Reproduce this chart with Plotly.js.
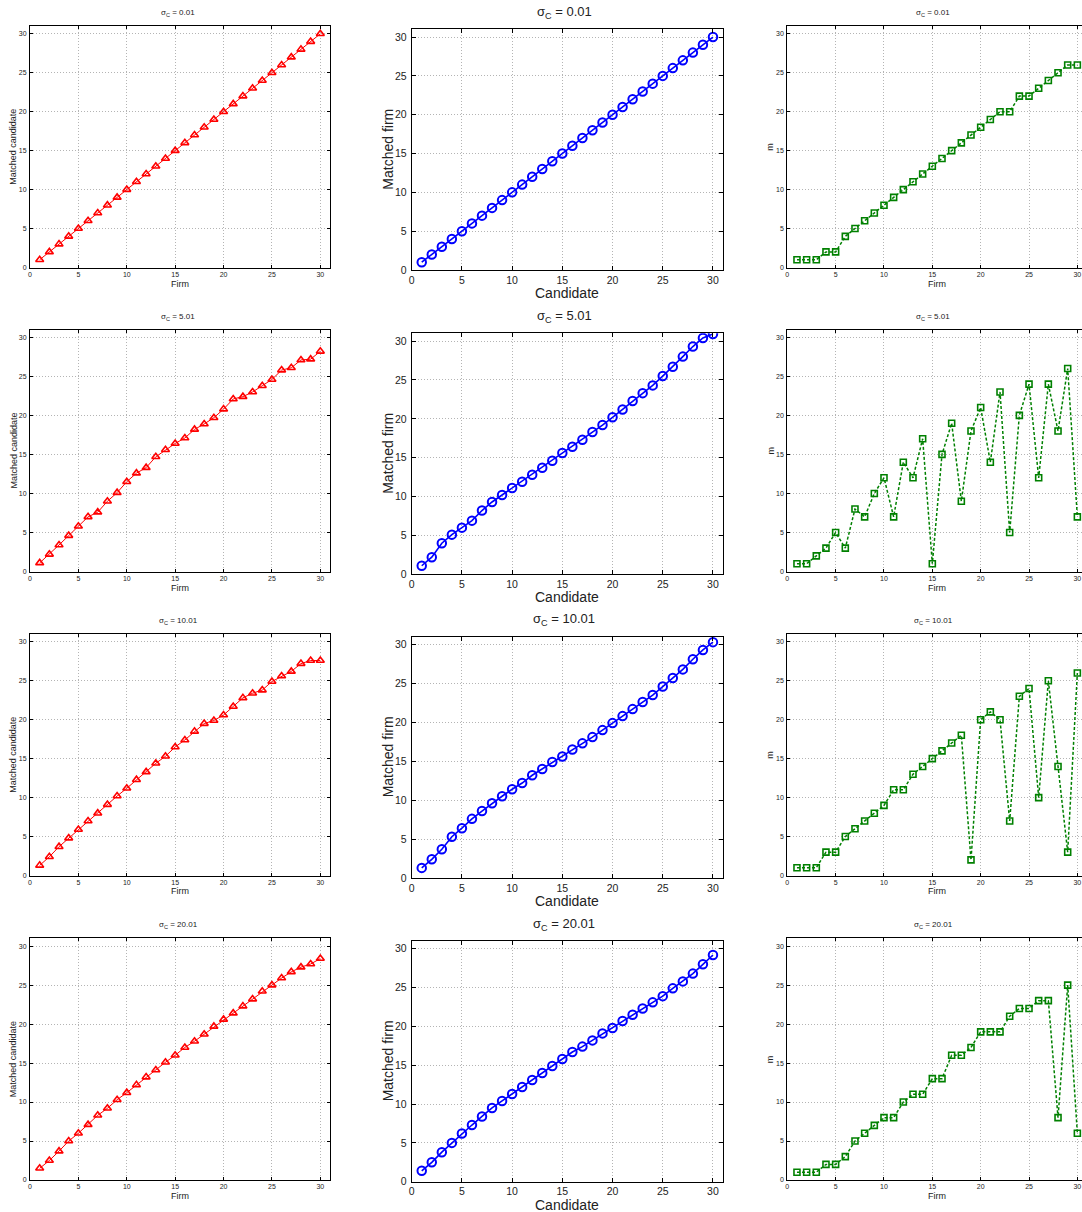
<!DOCTYPE html>
<html>
<head>
<meta charset="utf-8">
<script src="https://cdn.plot.ly/plotly-3.0.1.min.js"></script>
<style>html,body{margin:0;padding:0;background:#fff;}#chart{width:1082px;height:1212px;}</style>
</head>
<body>
<div id="chart"></div>
<script>
// ---- data ----
const index30 = [1,2,3,4,5,6,7,8,9,10,11,12,13,14,15,16,17,18,19,20,21,22,23,24,25,26,27,28,29,30];
const sigmaLabels = ["0.01", "5.01", "10.01", "20.01"];
const tickValues = [0,5,10,15,20,25,30];

// left column: matched candidate vs firm
const candS001 = [1,2,3,4,5,6,7,8,9,10,11,12,13,14,15,16,17,18,19,20,21,22,23,24,25,26,27,28,29,30];
const candS501 = [1.1,2.2,3.4,4.6,5.8,7.0,7.6,9.0,10.1,11.5,12.6,13.3,14.7,15.6,16.4,17.1,18.2,18.9,19.7,20.8,22.1,22.4,23.0,23.8,24.6,25.8,26.1,27.1,27.2,28.2];
const candS1001 = [1.3,2.4,3.7,4.8,5.9,7.0,8.0,9.1,10.2,11.2,12.3,13.3,14.4,15.3,16.5,17.4,18.5,19.5,19.9,20.6,21.7,22.8,23.4,23.8,24.9,25.6,26.2,27.2,27.6,27.6];
const candS2001 = [1.5,2.5,3.7,5.0,6.0,7.1,8.3,9.2,10.3,11.2,12.2,13.2,14.1,15.1,16.0,17.0,17.8,18.7,19.7,20.6,21.4,22.3,23.2,24.2,25.0,25.9,26.7,27.3,27.7,28.4];

// middle column: matched firm vs candidate
const firmS001 = [1,2,3,4,5,6,7,8,9,10,11,12,13,14,15,16,17,18,19,20,21,22,23,24,25,26,27,28,29,30];
const firmS501 = [1.1,2.2,4.0,5.1,6.0,6.9,8.2,9.3,10.2,11.1,11.9,12.8,13.7,14.6,15.6,16.4,17.3,18.3,19.2,20.2,21.2,22.3,23.3,24.3,25.5,26.7,28.0,29.3,30.4,30.9];
const firmS1001 = [1.3,2.4,3.7,5.3,6.4,7.6,8.6,9.6,10.5,11.4,12.2,13.2,14.0,14.9,15.6,16.5,17.3,18.1,19.0,19.9,20.8,21.7,22.6,23.5,24.6,25.7,26.8,28.1,29.3,30.3];
const firmS2001 = [1.4,2.5,3.8,5.0,6.2,7.3,8.4,9.5,10.4,11.3,12.2,13.1,14.0,14.9,15.8,16.7,17.4,18.2,19.1,19.8,20.7,21.5,22.3,23.1,23.9,24.9,25.8,26.8,28.0,29.2];

// right column: m vs firm
const mS001 = [1,1,1,2,2,4,5,6,7,8,9,10,11,12,13,14,15,16,17,18,19,20,20,22,22,23,24,25,26,26];
const mS501 = [1,1,2,3,5,3,8,7,10,12,7,14,12,17,1,15,19,9,18,21,14,23,5,20,24,12,24,18,26,7];
const mS1001 = [1,1,1,3,3,5,6,7,8,9,11,11,13,14,15,16,17,18,2,20,21,20,7,23,24,10,25,14,3,26];
const mS2001 = [1,1,1,2,2,3,5,6,7,8,8,10,11,11,13,13,16,16,17,19,19,19,21,22,22,23,23,8,25,6];

const leftSeries = [candS001, candS501, candS1001, candS2001];
const midSeries = [firmS001, firmS501, firmS1001, firmS2001];
const rightSeries = [mS001, mS501, mS1001, mS2001];

// ---- layout geometry (pixels) ----
const W = 1082, H = 1212;
const colX = [[30, 330], [411.7, 723], [787.3, 1082]];
const rowYSide = [[26, 267.5], [329.5, 571.5], [634, 875.5], [938.3, 1180]];
const rowYMid = [[29.3, 270], [333.3, 574.3], [636.7, 878], [941, 1181.7]];
const xRanges = [[0, 31], [0, 31], [0, 30.48]];

const FONT = "Liberation Sans, Arial, Helvetica, sans-serif";
const traces = [];
const layout = {
  width: W, height: H,
  margin: {l: 0, r: 0, t: 0, b: 0},
  paper_bgcolor: "#fff", plot_bgcolor: "#fff",
  showlegend: false,
  font: {family: FONT, color: "#222"},
  annotations: []
};

function px2x(p) { return p / W; }
function px2y(p) { return 1 - p / H; }

for (let r = 0; r < 4; r++) {
  for (let c = 0; c < 3; c++) {
    const n = r * 3 + c + 1;
    const xa = n === 1 ? "xaxis" : "xaxis" + n;
    const ya = n === 1 ? "yaxis" : "yaxis" + n;
    const xr = n === 1 ? "x" : "x" + n;
    const yr = n === 1 ? "y" : "y" + n;
    const ry = c === 1 ? rowYMid[r] : rowYSide[r];
    const big = c === 1;
    const tickSize = big ? 10.5 : 7;
    layout[xa] = {
      domain: [px2x(colX[c][0]), px2x(colX[c][1])],
      range: xRanges[c],
      anchor: yr,
      tickmode: "array", tickvals: tickValues, ticktext: tickValues.map(String),
      ticks: "inside", ticklen: big ? 4 : 3, tickcolor: "#000", tickwidth: 1,
      showline: true, linecolor: "#000", linewidth: 1, mirror: "ticks",
      showgrid: true, gridcolor: "#b4b4b4", griddash: "1px,2px", gridwidth: 1,
      zeroline: false,
      tickfont: {size: tickSize, family: FONT, color: "#222"},
      ticklabelstandoff: 0
    };
    layout[ya] = {
      domain: [px2y(ry[1]), px2y(ry[0])],
      range: [0, 31],
      anchor: xr,
      tickmode: "array", tickvals: tickValues, ticktext: tickValues.map(String),
      ticks: "inside", ticklen: big ? 4 : 3, tickcolor: "#000", tickwidth: 1,
      showline: true, linecolor: "#000", linewidth: 1, mirror: c === 2 ? false : "ticks",
      showgrid: true, gridcolor: "#b4b4b4", griddash: "1px,2px", gridwidth: 1,
      zeroline: false,
      tickfont: {size: tickSize, family: FONT, color: "#222"},
      ticklabelstandoff: big ? 2 : 1
    };

    let tr;
    if (c === 0) {
      tr = {x: index30, y: leftSeries[r], type: "scatter", mode: "lines+markers",
        line: {color: "#ff0000", width: 1},
        marker: {symbol: "triangle-up-open", size: 7, color: "#ff0000", line: {width: 1.6, color: "#ff0000"}}};
    } else if (c === 1) {
      tr = {x: index30, y: midSeries[r], type: "scatter", mode: "lines+markers",
        line: {color: "#0000ff", width: 1.6},
        marker: {symbol: "circle-open", size: 8.5, color: "#0000ff", line: {width: 2, color: "#0000ff"}}};
    } else {
      tr = {x: index30, y: rightSeries[r], type: "scatter", mode: "lines+markers",
        line: {color: "#008000", width: 1.5, dash: "3px,2px"},
        marker: {symbol: "square-open", size: 6, color: "#008000", line: {width: 1.6, color: "#008000"}}};
    }
    tr.xaxis = xr; tr.yaxis = yr;
    traces.push(tr);

    // subplot title
    const titleCx = c === 2 ? 933 : (colX[c][0] + colX[c][1]) / 2 - (c === 1 ? 3 : 2);
    layout.annotations.push({
      xref: "paper", yref: "paper", showarrow: false,
      x: px2x(titleCx), y: px2y(ry[0] - (big ? 17 : 13)),
      xanchor: "center", yanchor: "middle",
      text: "σ<sub>C</sub> = " + sigmaLabels[r],
      font: {size: big ? 13 : 8, family: FONT, color: "#222"}
    });
    // x axis title
    layout.annotations.push({
      xref: "paper", yref: "paper", showarrow: false,
      x: px2x(c === 2 ? 937 : (colX[c][0] + colX[c][1]) / 2), y: px2y(ry[1] + (big ? 23 : 16)),
      xanchor: "center", yanchor: "middle",
      text: c === 1 ? "Candidate" : "Firm",
      font: {size: big ? 14 : 9, family: FONT, color: "#222"}
    });
    // y axis title
    const yTitleX = c === 0 ? 13 : (c === 1 ? 388 : 770);
    layout.annotations.push({
      xref: "paper", yref: "paper", showarrow: false,
      x: px2x(yTitleX), y: px2y((ry[0] + ry[1]) / 2),
      xanchor: "center", yanchor: "middle", textangle: -90,
      text: c === 0 ? "Matched candidate" : (c === 1 ? "Matched firm" : "m"),
      font: {size: big ? 14 : 9, family: FONT, color: "#222"}
    });
  }
}

Plotly.newPlot("chart", traces, layout, {staticPlot: true, displayModeBar: false});
</script>
</body>
</html>
